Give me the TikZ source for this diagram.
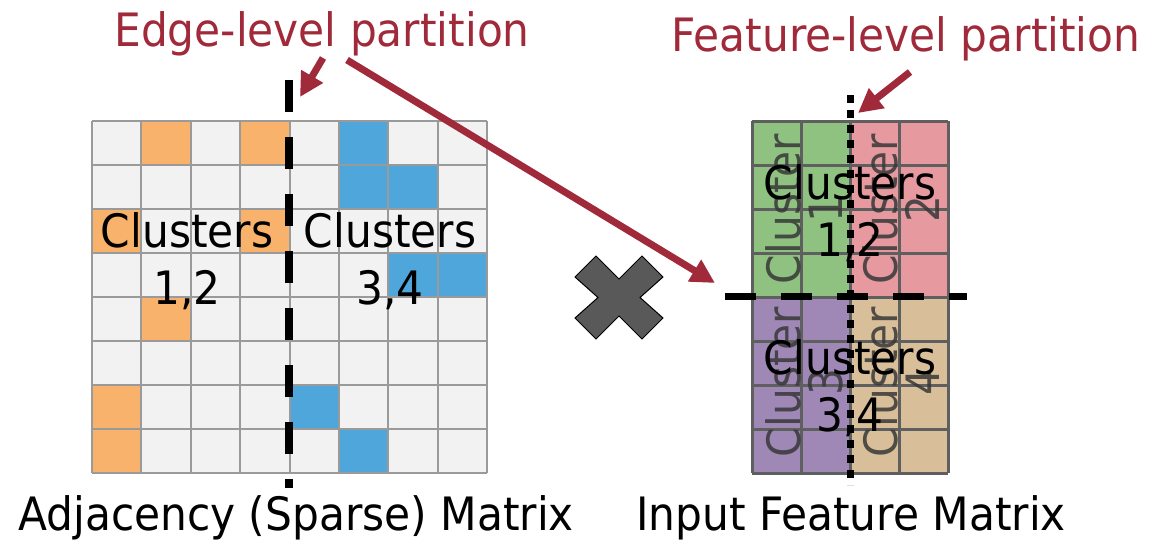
\documentclass[tikz,border=0pt]{standalone}
\usepackage{fontspec}
\setmainfont{DejaVu Sans}[FakeStretch=0.92]
\usetikzlibrary{arrows.meta,positioning}
\definecolor{partred}{HTML}{A02A3A}
\definecolor{cellgray}{HTML}{F2F2F2}
\definecolor{gridgray}{HTML}{9A9A9A}
\definecolor{edgeorange}{HTML}{F9B26B}
\definecolor{edgeblue}{HTML}{4EA6DA}
\definecolor{featgreen}{HTML}{8FC281}
\definecolor{featpink}{HTML}{E6999F}
\definecolor{featpurple}{HTML}{9F87B6}
\definecolor{feattan}{HTML}{D9BF99}
\definecolor{featline}{HTML}{5F5F5F}
\definecolor{crossgray}{HTML}{595959}
\tikzset{
  bigtext/.style={font=\fontsize{46}{57}\selectfont,inner sep=0pt},
  titletext/.style={bigtext,text=partred},
  clusterlabel/.style={bigtext,align=center},
  sidelabel/.style={font=\fontsize{46}{42}\selectfont,inner sep=0pt,align=center,rotate=90,text=black!78,opacity=0.85},
  partarrow/.style={-{Triangle[length=24pt,width=24pt]},line width=7pt,partred},
  edgecut/.style={line width=7.5pt,dash pattern=on 32pt off 25pt},
  featcut/.style={line width=7pt,dash pattern=on 31pt off 25pt},
  featdot/.style={line width=7pt,dash pattern=on 8pt off 7pt}
}

\begin{document}
\begin{tikzpicture}[x=1pt,y=-1pt]
  \useasboundingbox (0,0) rectangle (1156,543);
  % adjacency matrix
  \fill[cellgray] (92,121) rectangle (487.2,473);
  \foreach \c/\r/\col in {1/0/edgeorange,3/0/edgeorange,5/0/edgeblue,5/1/edgeblue,6/1/edgeblue,
      0/2/edgeorange,3/2/edgeorange,6/3/edgeblue,7/3/edgeblue,1/4/edgeorange,
      0/6/edgeorange,4/6/edgeblue,0/7/edgeorange,5/7/edgeblue}
    \fill[\col] ({92+49.4*\c},{121+44*\r}) rectangle ++(49.4,44);
  \foreach \i in {0,...,8} {
    \draw[gridgray,line width=2pt] ({92+49.4*\i},121) -- ++(0,352);
    \draw[gridgray,line width=2pt] (92,{121+44*\i}) -- ++(395.2,0);
  }
  \node[clusterlabel] (clusters12) at (187,261) {Clusters\\1,2};
  \node[clusterlabel] (clusters34) at (390,261) {Clusters\\3,4};

  % input feature matrix
  \fill[featgreen] (752,121) rectangle (850,297);
  \fill[featpink] (850,121) rectangle (948,297);
  \fill[featpurple] (752,297) rectangle (850,473);
  \fill[feattan] (850,297) rectangle (948,473);
  \foreach \i in {0,...,4}
    \draw[featline,line width=3pt] ({752+49*\i},121) -- ++(0,352);
  \foreach \i in {0,...,8}
    \draw[featline,line width=3pt] (752,{121+44*\i}) -- ++(196,0);
  \node[sidelabel] (cluster1) at (804,209) {Cluster\\1};
  \node[sidelabel] (cluster2) at (901,209) {Cluster\\2};
  \node[sidelabel] (cluster3) at (804,382) {Cluster\\3};
  \node[sidelabel] (cluster4) at (901,382) {Cluster\\4};
  \node[clusterlabel] (featclusters12) at (850,213) {Clusters\\1,2};
  \node[clusterlabel] (featclusters34) at (850,388) {Clusters\\3,4};

  % partition lines
  \coordinate (edgecuttop) at (289,80);
  \coordinate (edgecutbot) at (289,488);
  \coordinate (featcutleft) at (725,296);
  \coordinate (featcutright) at (967,296);
  \coordinate (featdottop) at (850,95);
  \coordinate (featdotbot) at (850,485);
  \draw[edgecut] (edgecuttop) -- (edgecutbot);
  \draw[featcut] (featcutleft) -- (featcutright);
  \draw[featdot] (featdottop) -- (featdotbot);

  % multiply sign
  \filldraw[fill=crossgray,draw=black,line width=1pt] (575,277) -- (596,256) -- (619,279) -- (642,256)
    -- (663,277) -- (640,297.5) -- (663,318) -- (642,339) -- (619,316) -- (596,339) -- (575,318)
    -- (598,297.5) -- cycle;

  % titles and arrows
  \node[titletext,anchor=base] (edgetitle) at (322,47) {Edge-level partition};
  \node[titletext,anchor=base] (feattitle) at (906,52) {Feature-level partition};
  \coordinate (edgestart) at (323,58);
  \coordinate (edgetip) at (300,97);
  \coordinate (crossstart) at (347,60);
  \coordinate (crosstip) at (715,283);
  \coordinate (featstart) at (910,72);
  \coordinate (feattip) at (858,113);
  \draw[partarrow] (edgestart) -- (edgetip);
  \draw[partarrow] (crossstart) -- (crosstip);
  \draw[partarrow] (featstart) -- (feattip);

  \node[bigtext,anchor=base] (adjlabel) at (296,530) {Adjacency (Sparse) Matrix};
  \node[bigtext,anchor=base] (featlabel) at (851,530) {Input Feature Matrix};
\end{tikzpicture}
\end{document}
